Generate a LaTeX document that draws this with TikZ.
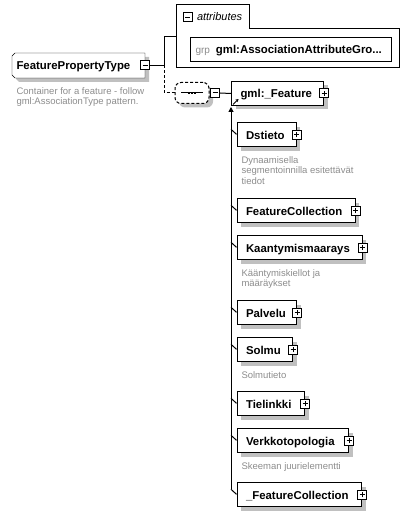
\documentclass[tikz,border=0pt]{standalone}
\usepackage{fontspec}
\setmainfont{Liberation Sans}
\usetikzlibrary{calc,shadows,backgrounds,arrows.meta}
\definecolor{descgray}{RGB}{140,140,140}
\definecolor{shadowgray}{RGB}{192,192,192}
\newcommand\elfont{\fontsize{11.4bp}{13bp}\selectfont\bfseries}
\newcommand\descfont{\fontsize{9.5bp}{10.5bp}\selectfont}
\tikzset{
 shd/.style={drop shadow={shadow xshift=4bp, shadow yshift=-4bp, fill=shadowgray, opacity=1}},
 elem/.style={draw, fill=white, anchor=north west, minimum height=24bp, inner ysep=0pt, inner xsep=9bp, text height=8.5bp, text depth=0pt, align=left, font=\elfont, shd},
 pmbox/.style={draw, fill=white, minimum size=9bp, inner sep=0pt},
 minusbox/.style={pmbox, path picture={\draw[line width=1bp] ([xshift=2bp]path picture bounding box.west) -- ([xshift=-2bp]path picture bounding box.east);}},
 plusbox/.style={pmbox, path picture={\draw[line width=1bp] ([xshift=2bp]path picture bounding box.west) -- ([xshift=-2bp]path picture bounding box.east) ([yshift=2bp]path picture bounding box.south) -- ([yshift=-2bp]path picture bounding box.north);}},
 desc/.style={anchor=base west, align=left, inner sep=0pt, font=\descfont, text=descgray},
 dsh/.style={dash pattern=on 3bp off 2bp},
}
\begin{document}
\begin{tikzpicture}[x=1bp, y=-1bp, line width=1bp]
\useasboundingbox (0,0) rectangle (410,516);
% attributes
\draw[fill=white] (176,5) -- (249,5) -- (249,29) -- (399,29) -- (399,68) -- (176,68) -- cycle;
\node[minusbox] (attm) at (187.5,17.5) {};
\node[anchor=base west, inner sep=0pt, font=\fontsize{11bp}{13bp}\selectfont\itshape] (attl) at (196.5,21) {attributes};
\node[draw, fill=white, anchor=north west, minimum height=24bp, inner ysep=0pt, inner xsep=5bp, text width=191bp, text height=8.5bp, text depth=0pt, align=left, font=\elfont] (grp) at (190,37) {{\fontsize{10bp}{12bp}\selectfont\mdseries\color{descgray}grp}\hspace{6bp}gml:AssociationAttributeGro...};
\coordinate (attrin) at (176,37);
% root
\node[anchor=north west, minimum height=24bp, inner ysep=0pt, inner xsep=4bp, text width=124bp, text height=8.5bp, text depth=0pt, align=left, font=\elfont] (fpt) at (12,53) {FeaturePropertyType};
\begin{scope}[on background layer]
\fill[shadowgray, transform canvas={shift={(4bp,-4bp)}}] ($(fpt.north west)+(3,0)$) -- (fpt.north east) -- (fpt.south east) -- ($(fpt.south west)+(3,0)$) -- ($(fpt.south west)+(0,-3)$) -- ($(fpt.north west)+(0,3)$) -- cycle;
\draw[fill=white] ($(fpt.north west)+(3,0)$) -- (fpt.north east) -- (fpt.south east) -- ($(fpt.south west)+(3,0)$) -- ($(fpt.south west)+(0,-3)$) -- ($(fpt.north west)+(0,3)$) -- cycle;
\end{scope}
\node[minusbox] (fptm) at (fpt.east) {};
\node[desc] (fptd) at ($(fpt.south west)+(4,26.8)$) {Container for a feature - follow\\gml:AssociationType pattern.};
% sequence
\node[draw, fill=white, dsh, rounded corners=6bp, minimum width=34bp, minimum height=21bp, inner sep=0pt, shd] (seq) at (192,93) {};
\draw ($(seq.center)+(-11,0)$) -- ($(seq.center)+(11,0)$);
\foreach \dx in {-3.2,0,3.2} \fill ($(seq.center)+(\dx-1.2,-1.2)$) rectangle ($(seq.center)+(\dx+1.2,1.2)$);
\node[minusbox] (seqm) at ($(seq.east)+(5.5,0)$) {};
% feature
\node[elem, text width=74bp] (feat) at (231,81) {gml:\_Feature};
\node[plusbox] (featp) at (feat.east) {};
\draw[-{Stealth[length=3bp,width=3.5bp]}] ($(feat.south west)+(2,-1.5)$) -- ($(feat.south west)+(7.5,-7)$);
% members
\node[elem, text width=41bp] (dst) at (236.5,122.3) {Dstieto};
\node[elem, text width=100bp] (fc) at (236.5,198.3) {FeatureCollection};
\node[elem, text width=107bp] (kaa) at (236.5,235.3) {Kaantymismaarays};
\node[elem, text width=41.5bp] (pal) at (236.5,300.3) {Palvelu};
\node[elem, text width=37.5bp] (sol) at (236.5,337.3) {Solmu};
\node[elem, text width=49.5bp] (tie) at (236.5,391.3) {Tielinkki};
\node[elem, text width=93.5bp] (ver) at (236.5,428.3) {Verkkotopologia};
\node[elem, text width=106.5bp] (ufc) at (236.5,482.3) {\_FeatureCollection};
\foreach \m in {dst,fc,kaa,pal,sol,tie,ver,ufc} {
  \node[plusbox] (\m p) at (\m.east) {};
  \draw ($(\m.north west)+(-5.5,7)$) -- ($(\m.north west)+(0,12)$);
}
\node[desc] (dstd) at ($(dst.south west)+(4.5,37)$) {Dynaamisella\\segmentoinnilla esitettävät\\tiedot};
\node[desc] (kaad) at ($(kaa.south west)+(4.5,26.5)$) {Kääntymiskiellot ja\\määräykset};
\node[desc] (sold) at ($(sol.south west)+(4.5,16)$) {Solmutieto};
\node[desc] (verd) at ($(ver.south west)+(4.5,16)$) {Skeeman juurielementti};
% connectors
\coordinate (fork) at ($(fptm.east)+(14,0)$);
\draw (fptm.east) -- (fork) |- (attrin);
\draw[dsh] (fork) |- (seq.west);
\draw (seqm.east) -- (feat.west);
\coordinate (trunkend) at ($(ufc.north west)+(-5.5,7)$);
\draw[-{Triangle[width=5bp,length=5bp]}, shorten >=1bp] (trunkend) -- (feat.south west);
\end{tikzpicture}
\end{document}
